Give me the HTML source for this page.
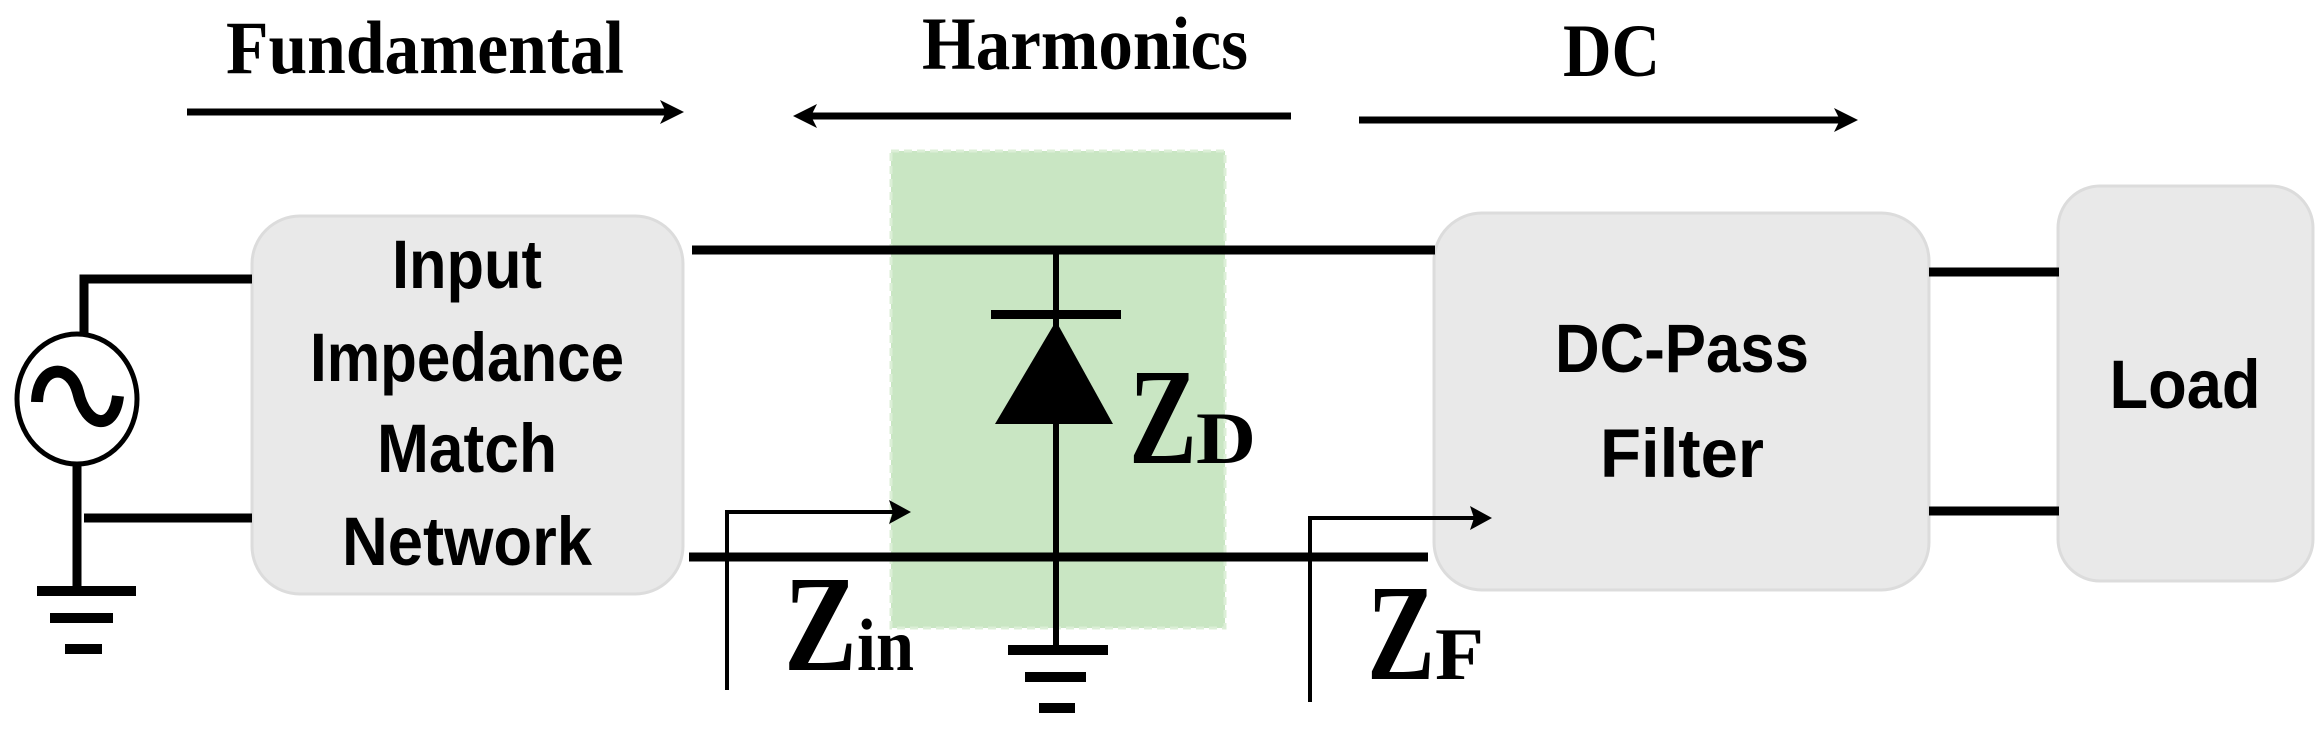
<!DOCTYPE html>
<html><head><meta charset="utf-8"><style>html,body{margin:0;padding:0;background:#fff}svg{display:block}</style></head>
<body>
<svg width="2317" height="729" viewBox="0 0 2317 729" xmlns="http://www.w3.org/2000/svg">
<rect x="891" y="151" width="334" height="477" fill="#c9e6c3" stroke="#dcefd7" stroke-width="3" stroke-dasharray="8,5"/>
<rect x="252" y="216" width="431" height="378" rx="48" fill="#e9e9e9" stroke="#dcdcdc" stroke-width="3"/>
<rect x="1434" y="213" width="495" height="377" rx="48" fill="#e9e9e9" stroke="#dcdcdc" stroke-width="3"/>
<rect x="2058" y="186" width="255" height="395" rx="42" fill="#e9e9e9" stroke="#dcdcdc" stroke-width="3"/>
<g font-family="Liberation Sans, sans-serif" font-size="54" font-weight="bold" fill="#000" text-anchor="middle">
<text transform="translate(467,288) scale(1,1.28)" textLength="150" lengthAdjust="spacingAndGlyphs">Input</text>
<text transform="translate(467,381) scale(1,1.28)" textLength="314" lengthAdjust="spacingAndGlyphs">Impedance</text>
<text transform="translate(467,472) scale(1,1.28)" textLength="180" lengthAdjust="spacingAndGlyphs">Match</text>
<text transform="translate(467,565) scale(1,1.28)" textLength="250" lengthAdjust="spacingAndGlyphs">Network</text>
<text transform="translate(1682,372) scale(1,1.28)" textLength="254" lengthAdjust="spacingAndGlyphs">DC-Pass</text>
<text transform="translate(1682,477) scale(1,1.28)" textLength="164" lengthAdjust="spacingAndGlyphs">Filter</text>
<text transform="translate(2185,408) scale(1,1.28)" textLength="151" lengthAdjust="spacingAndGlyphs">Load</text>
</g>
<g font-family="Liberation Serif, serif" font-weight="bold" font-size="60" fill="#000">
<text transform="translate(226,73) scale(1,1.25)" textLength="398" lengthAdjust="spacingAndGlyphs">Fundamental</text>
<text transform="translate(922,69) scale(1,1.25)" textLength="326" lengthAdjust="spacingAndGlyphs">Harmonics</text>
<text transform="translate(1563,76) scale(1,1.25)" textLength="97" lengthAdjust="spacingAndGlyphs">DC</text>
</g>
<g stroke="#000" stroke-width="7" fill="none">
<line x1="187" y1="112" x2="670" y2="112"/>
<line x1="806" y1="116" x2="1291" y2="116"/>
<line x1="1359" y1="120" x2="1845" y2="120"/>
</g>
<g fill="#000">
<polygon points="684,112 660,100 666,112 660,124"/>
<polygon points="793,116 817,104 811,116 817,128"/>
<polygon points="1858,120 1834,108 1840,120 1834,132"/>
</g>
<g stroke="#000" fill="none">
<polyline points="252,279 84,279 84,334" stroke-width="9"/>
<line x1="77" y1="465" x2="77" y2="590" stroke-width="9"/>
<line x1="84" y1="518" x2="252" y2="518" stroke-width="9"/>
<ellipse cx="77" cy="399" rx="60" ry="65" stroke-width="5"/>
<path d="M37,402 C38,365 70,362 78,392 C86,428 114,432 118,396" stroke-width="12"/>
</g>
<g fill="#000">
<rect x="37" y="586" width="99" height="10"/>
<rect x="50" y="613" width="63" height="10"/>
<rect x="65" y="644" width="37" height="10"/>
<rect x="1008" y="645" width="100" height="10"/>
<rect x="1025" y="672" width="61" height="10"/>
<rect x="1039" y="703" width="36" height="10"/>
</g>
<g stroke="#000" stroke-width="9">
<line x1="692" y1="250" x2="1435" y2="250"/>
<line x1="689" y1="557" x2="1428" y2="557"/>
<line x1="1929" y1="272" x2="2059" y2="272"/>
<line x1="1929" y1="511" x2="2059" y2="511"/>
</g>
<line x1="1056" y1="250" x2="1056" y2="646" stroke="#000" stroke-width="6"/>
<rect x="991" y="310" width="130" height="9" fill="#000"/>
<polygon points="1056,321 995,424 1113,424" fill="#000"/>
<g stroke="#000" stroke-width="4" fill="none">
<polyline points="727,690 727,512 898,512"/>
<polyline points="1310,702 1310,518 1478,518"/>
</g>
<g fill="#000">
<polygon points="911,512 889,500 893,512 889,524"/>
<polygon points="1492,518 1470,506 1474,518 1470,530"/>
</g>
<g font-family="Liberation Serif, serif" font-weight="bold" fill="#000">
<text transform="translate(784,670) scale(1,1.1)" font-size="125" textLength="73" lengthAdjust="spacingAndGlyphs">Z</text>
<text transform="translate(857,670) scale(1,1.2)" font-size="62" textLength="57" lengthAdjust="spacingAndGlyphs">in</text>
<text transform="translate(1129,463) scale(1,1.1)" font-size="125" textLength="68" lengthAdjust="spacingAndGlyphs">Z</text>
<text transform="translate(1196,463) scale(1,1.2)" font-size="62" textLength="60" lengthAdjust="spacingAndGlyphs">D</text>
<text transform="translate(1367,679) scale(1,1.1)" font-size="125" textLength="68" lengthAdjust="spacingAndGlyphs">Z</text>
<text transform="translate(1435,679) scale(1,1.2)" font-size="62" textLength="49" lengthAdjust="spacingAndGlyphs">F</text>
</g>
</svg>
</body></html>
